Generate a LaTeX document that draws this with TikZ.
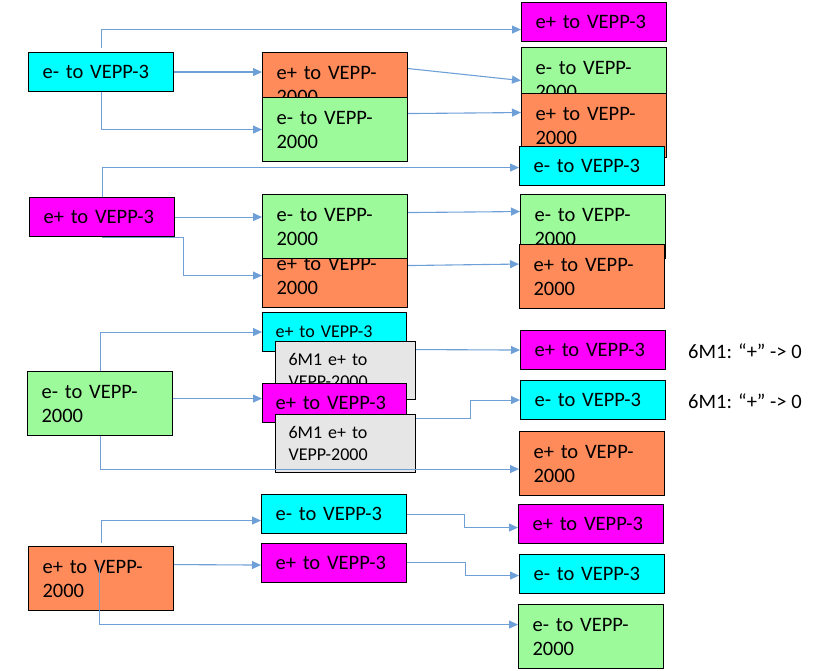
\documentclass[tikz,border=0pt]{standalone}
\usepackage{fontspec}
\setmainfont{Carlito}
\usetikzlibrary{arrows.meta}
\definecolor{cy}{HTML}{00FFFF}
\definecolor{mg}{HTML}{FF00FF}
\definecolor{gn}{HTML}{9CFA9A}
\definecolor{orb}{HTML}{FF8B5B}
\definecolor{gr}{HTML}{E6E6E6}
\definecolor{lb}{HTML}{6EA0D7}
\begin{document}
\begin{tikzpicture}[x=1pt,y=-1pt,
 box/.style={draw=black, line width=1.1pt, anchor=north west, inner xsep=14pt, inner ysep=0pt, text width=117pt, align=left, font=\fontsize{20.5}{24}\selectfont},
 onebox/.style={box, minimum height=39pt},
 twobox/.style={box, minimum height=64pt},
 gbox/.style={draw=black, line width=1.1pt, fill=gr, anchor=north west, inner xsep=13pt, inner ysep=0pt, text width=114pt, minimum height=58pt, align=left, font=\fontsize{18}{22}\selectfont},
 note/.style={anchor=west, inner sep=0pt, font=\fontsize{20.5}{24}\selectfont},
 arr/.style={draw=lb, line width=1.1pt, -{Triangle[length=9pt,width=8pt]}}]
\useasboundingbox (0,0) rectangle (821,671);

% left column
\node[onebox, fill=cy] (L1) at (28,52) {e- to VEPP-3};
\node[onebox, fill=mg] (L2) at (29,197) {e+ to VEPP-3};
\node[twobox, fill=gn] (L3) at (27,371) {e- to VEPP-\\2000};
\node[twobox, fill=orb] (L4) at (28,546) {e+ to VEPP-\\2000};

% middle column
\node[twobox, fill=orb] (M1) at (262,52) {e+ to VEPP-\\2000};
\node[twobox, fill=gn] (M2) at (262,97) {e- to VEPP-\\2000};
\node[twobox, fill=orb] (M4) at (262,243) {e+ to VEPP-\\2000};
\node[twobox, fill=gn] (M3) at (262,194) {e- to VEPP-\\2000};
\node[onebox, fill=cy, inner xsep=13pt, text width=118pt, font=\fontsize{18}{22}\selectfont] (M5) at (262,312) {e+ to VEPP-3};
\node[gbox] (G1) at (275,341) {6M1 e+ to\\VEPP-2000};
\node[onebox, fill=mg, inner xsep=13pt, text width=118pt] (M6) at (262,383) {e+ to VEPP-3};
\node[gbox] (G2) at (275,414) {6M1 e+ to\\VEPP-2000};
\node[onebox, fill=cy] (M7) at (261,494) {e- to VEPP-3};
\node[onebox, fill=mg] (M8) at (261,543) {e+ to VEPP-3};

% right column
\node[onebox, fill=mg] (R1) at (521,2) {e+ to VEPP-3};
\node[twobox, fill=gn] (R2) at (521,47) {e- to VEPP-\\2000};
\node[twobox, fill=orb] (R3) at (521,93) {e+ to VEPP-\\2000};
\node[onebox, fill=cy] (R4) at (519,146) {e- to VEPP-3};
\node[twobox, fill=gn] (R5) at (520,194) {e- to VEPP-\\2000};
\node[twobox, fill=orb] (R6) at (519,244) {e+ to VEPP-\\2000};
\node[onebox, fill=mg] (R7) at (520,330) {e+ to VEPP-3};
\node[onebox, fill=cy] (R8) at (520,380) {e- to VEPP-3};
\node[twobox, fill=orb] (R9) at (519,431) {e+ to VEPP-\\2000};
\node[onebox, fill=mg] (R10) at (518,504) {e+ to VEPP-3};
\node[onebox, fill=cy] (R11) at (519,554) {e- to VEPP-3};
\node[twobox, fill=gn] (R12) at (518,604) {e- to VEPP-\\2000};

% notes
\node[note] (A1) at (688,351) {6M1: “+” -> 0};
\node[note] (A2) at (688,401) {6M1: “+” -> 0};

% connectors group 1
\draw[arr] ([yshift=4pt]L1.north) |- ([yshift=-7.5pt]R1.west);
\draw[arr] (L1.east) -- (M1.west |- L1.east);
\draw[arr] (L1.south) |- (M2.west);
\draw[arr] ([yshift=16pt]M1.east) -- ([yshift=-1pt]R2.west);
\draw[arr] ([yshift=16pt]M2.east) -- ([yshift=13pt]R3.west);
% group 2
\draw[arr] (L2.north) |- ([yshift=-1.5pt]R4.west);
\draw[arr] (L2.east) -- (M3.west |- L2.east);
\draw[arr] (L2.south) -- (L2.south east) -- ++(8,0) |- (M4.west);
\draw[arr] ([yshift=14pt]M3.east) -- ([yshift=15pt]R5.west);
\draw[arr] ([yshift=10pt]M4.east) -- ([yshift=12.5pt]R6.west);
% group 3
\draw[arr] (L3.north) |- (M5.west);
\draw[arr] ([yshift=5pt]L3.east) -- ([yshift=4.5pt]M6.west);
\draw[arr] (L3.south) |- ([yshift=-5.5pt]R9.west);
\draw[arr] ([yshift=21pt]G1.east) -- (R7.west);
\draw[arr] ([yshift=25pt]G2.east) -- ++(54,0) |- (R8.west);
% group 4
\draw[arr] ([yshift=3pt]L4.north) |- ([yshift=-6.5pt]M7.west);
\draw[arr] ([yshift=14pt]L4.east) -- ([yshift=-2pt]M8.west);
\draw[arr] ([shift={(-1.5pt,15pt)}]L4.center) |- ([yshift=12pt]R12.west);
\draw[arr] (M7.east) -- ++(57,0) |- ([yshift=-3.5pt]R10.west);
\draw[arr] ([yshift=1pt]M8.east) -- ++(58,0) |- ([yshift=-1.5pt]R11.west);
\end{tikzpicture}
\end{document}
